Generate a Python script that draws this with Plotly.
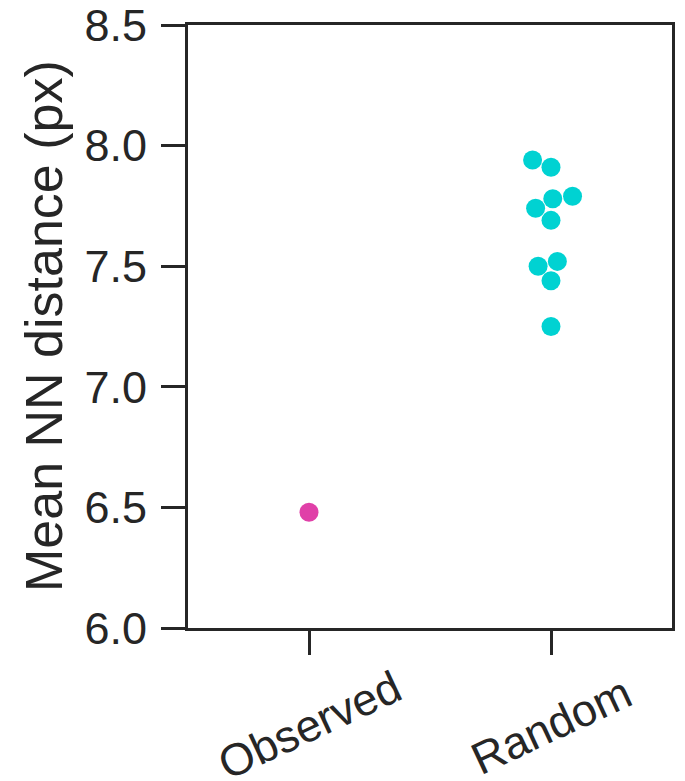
import numpy as np
import plotly.graph_objects as go

# ---- data ----
categories = ["Observed", "Random"]
observed_values = [6.48]
random_values = [7.94, 7.91, 7.78, 7.79, 7.74, 7.69, 7.50, 7.52, 7.44, 7.25]
y_ticks = [6.0, 6.5, 7.0, 7.5, 8.0, 8.5]
y_label = "Mean NN distance (px)"
colors = ["#E040A8", "#00D2D2"]

# ---- layout constants ----
W, H = 685, 781
M_L, M_R, M_T, M_B = 187.5, 12.5, 25, 152.5
X_RANGE = [-0.5, 1.5]
Y_RANGE = [6.0, 8.5]
MARKER_D = 19
FONT = "Liberation Sans, Arial, sans-serif"
INK = "#262626"

plot_w = W - M_L - M_R
plot_h = H - M_T - M_B
px_per_x = plot_w / (X_RANGE[1] - X_RANGE[0])
px_per_y = plot_h / (Y_RANGE[1] - Y_RANGE[0])


def beeswarm(values, diameter):
    """Seaborn-like swarm: returns x offsets (data units) for each value."""
    vals = np.asarray(values, dtype=float)
    ys = vals * px_per_y
    order = np.argsort(ys, kind="stable")
    r = diameter / 2.0
    placed = []  # (x, y)
    offsets = np.zeros(len(vals))
    for i in order:
        y_i = ys[i]
        neighbors = [(xj, yj) for (xj, yj) in reversed(placed) if abs(yj - y_i) < 2 * r]
        cands = [0.0]
        left_first = True
        for xj, yj in neighbors:
            dy = y_i - yj
            dx = np.sqrt(max((2 * r) ** 2 - dy ** 2, 0)) * 1.05
            pair = [xj - dx, xj + dx] if left_first else [xj + dx, xj - dx]
            cands.extend(pair)
            left_first = not left_first
        cands = np.array(cands)
        cands = cands[np.argsort(np.abs(cands), kind="stable")]
        chosen = cands[0]
        for c in cands:
            ok = all((c - xj) ** 2 + (y_i - yj) ** 2 >= (2 * r) ** 2 - 1e-9 for xj, yj in neighbors)
            if ok:
                chosen = c
                break
        placed.append((chosen, y_i))
        offsets[i] = chosen / px_per_x
    return offsets


fig = go.Figure()
for idx, (vals, col) in enumerate([(observed_values, colors[0]), (random_values, colors[1])]):
    offs = beeswarm(vals, MARKER_D)
    fig.add_trace(go.Scatter(
        x=idx + offs, y=vals, mode="markers",
        marker=dict(size=MARKER_D, color=col, line=dict(width=0)),
        showlegend=False, hoverinfo="y", cliponaxis=False,
    ))

fig.update_layout(
    width=W, height=H,
    margin=dict(l=M_L, r=M_R, t=M_T, b=M_B, pad=0, autoexpand=False),
    paper_bgcolor="white", plot_bgcolor="white",
    font=dict(family=FONT, color=INK),
    xaxis=dict(
        range=X_RANGE, tickvals=[0, 1], ticktext=["", ""],
        showgrid=False, zeroline=False, automargin=False,
        showline=True, linecolor=INK, linewidth=3, mirror=True,
        ticks="outside", ticklen=24, tickwidth=3, tickcolor=INK,
    ),
    yaxis=dict(
        range=Y_RANGE, tickvals=y_ticks, ticktext=[f"{v:.1f}" for v in y_ticks],
        showgrid=False, zeroline=False, automargin=False,
        showline=True, linecolor=INK, linewidth=3, mirror=True,
        ticks="outside", ticklen=24, tickwidth=3, tickcolor=INK,
        tickfont=dict(size=45, family=FONT, color=INK),
        ticklabeloverflow="allow", ticklabelstandoff=5,
    ),
)

# rotated category labels centred under ticks
for i, cat in enumerate(categories):
    fig.add_annotation(
        x=i, xref="x", y=0, yref="paper", yshift=-97,
        text=cat, showarrow=False, textangle=-25,
        xanchor="center", yanchor="middle",
        font=dict(size=45, family=FONT, color=INK),
    )

# y-axis title
fig.add_annotation(
    x=0, xref="paper", xshift=-(M_L - 43), y=0.5, yref="paper",
    text=y_label, showarrow=False, textangle=-90,
    xanchor="center", yanchor="middle",
    font=dict(size=52, family=FONT, color=INK),
)

fig.write_html(
    "out.html",
    config={"displayModeBar": False},
    post_script="document.body.style.margin='0';document.body.style.padding='0';",
)
